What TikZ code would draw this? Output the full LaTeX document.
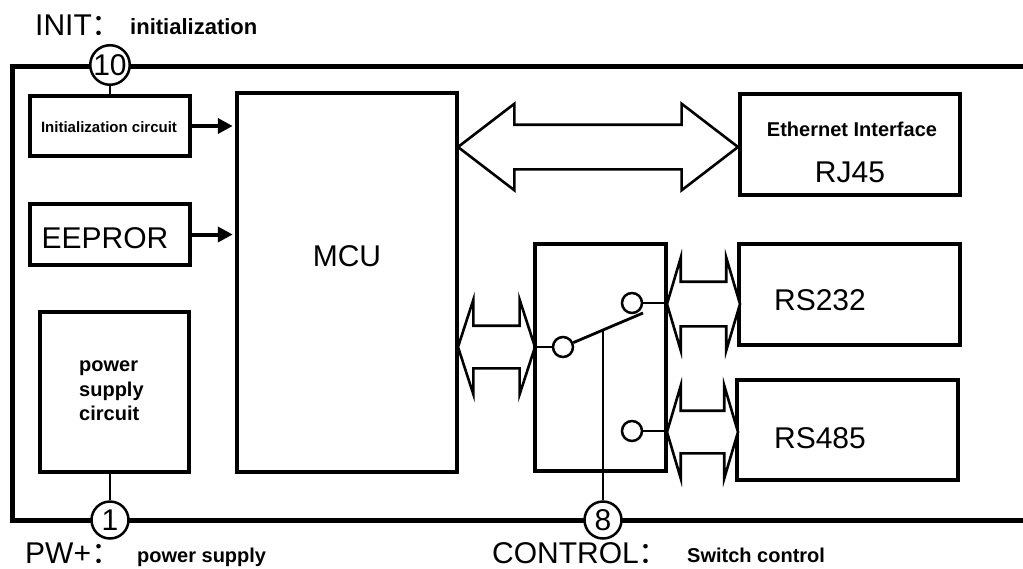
\documentclass[tikz,border=0pt]{standalone}
\usepackage{fontspec}
\setmainfont{Liberation Sans}
\newfontfamily\cjk{Noto Sans CJK SC}
\usetikzlibrary{arrows.meta,shapes.arrows,calc}
\tikzset{>={Triangle[length=15pt,width=15pt]},box/.style={draw,line width=4.5pt,inner sep=0pt},frame/.style={line width=5pt},arr/.style={->,line width=4pt,shorten >=2pt},wire/.style={line width=2.8pt},link/.style={double arrow,draw,line width=2.6pt,fill=white,inner xsep=0pt},pin/.style={circle,draw,line width=2.5pt,fill=white,inner sep=0pt,minimum size=37pt,font=\fontsize{30}{30}\selectfont},contact/.style={circle,draw,line width=2.5pt,fill=white,inner sep=0pt,minimum size=20pt},big/.style={font=\fontsize{30}{36}\selectfont,inner sep=0pt},bold/.style={font=\bfseries\fontsize{20}{24.5}\selectfont,inner sep=0pt}}

\begin{document}
\begin{tikzpicture}[x=1pt,y=-1pt]
\useasboundingbox (0,0) rectangle (1023,568);
\draw[frame] (1023,66) -- (12,66) -- (12,520) -- (1023,520);
% blocks
\node[box,minimum width=160pt,minimum height=60pt] (init) at (110,126) {};
\node[box,minimum width=160pt,minimum height=61pt] (eep) at (110,234.5) {};
\node[box,minimum width=149pt,minimum height=160pt] (pwr) at (114.5,392) {};
\node[box,minimum width=220pt,minimum height=379pt] (mcu) at (347,282.5) {};
\node[box,minimum width=220pt,minimum height=101pt] (eth) at (850,144.5) {};
\node[box,minimum width=131pt,minimum height=227pt] (sw) at (600.5,357.5) {};
\node[box,minimum width=221pt,minimum height=101pt] (rsa) at (849.5,294.5) {};
\node[box,minimum width=221pt,minimum height=100pt] (rsb) at (847.5,430) {};
\node[font=\bfseries\fontsize{15}{18}\selectfont,inner sep=0pt,anchor=base] (initt) at (109,132) {Initialization circuit};
\node[big,anchor=base] (eept) at (105,248) {EEPROR};
\node[bold,align=left,anchor=north west] (pwrt) at (79,361) {power\\supply\\circuit};
\node[big,anchor=base] (mcut) at (347,266) {MCU};
\node[bold,anchor=base] (etht) at (852,136) {Ethernet Interface};
\node[big,anchor=base] (rjt) at (850,182) {RJ45};
\node[big,anchor=base] (rsat) at (820,310) {RS232};
\node[big,anchor=base] (rsbt) at (820,448) {RS485};
% arrows
\draw[arr] (init.east) -- (mcu.west |- init.east);
\draw[arr] (eep.east) -- (mcu.west |- eep.east);
\node[link,minimum height=280pt,inner ysep=21pt,double arrow head extend=21pt,double arrow tip angle=75] (leth) at (598,147) {};
\node[link,minimum height=77pt,inner ysep=20pt,double arrow head extend=26pt,double arrow tip angle=144] (lsw) at (496.5,347) {};
\node[link,minimum height=73pt,inner ysep=21pt,double arrow head extend=24pt,double arrow tip angle=147] (lrsa) at (703.5,304) {};
\node[link,minimum height=71pt,inner ysep=20pt,double arrow head extend=25pt,double arrow tip angle=147] (lrsb) at (702.5,432) {};
% switch
\node[contact] (c1) at (563,347) {};
\node[contact] (c2) at (632,303) {};
\node[contact] (c3) at (632,431) {};
\coordinate (lever) at (643,313);
\coordinate (mid) at ($(c1)!.5!(lever)$);
\draw[wire] (sw.west |- c1) -- (c1);
\draw[wire] (c2) -- (sw.east |- c2);
\draw[wire] (c3) -- (sw.east |- c3);
\draw[wire] (c1) -- (lever);
% pins
\node[pin] (p10) at (110,65) {10};
\node[pin] (p1) at (110,520) {1};
\node[pin] (p8) at (603,520) {8};
\draw[wire] (p10) -- (init.north);
\draw[wire] (p1) -- (p1 |- pwr.south);
\draw[wire] (p8) -- (p8 |- mid);
\node[big,anchor=base west] (initl) at (35,35) {INIT{\cjk ：}};
\node[bold,font=\bfseries\fontsize{22}{26}\selectfont,anchor=base west] (initd) at (130,34) {initialization};
\node[big,anchor=base west] (pwl) at (25,563) {PW+{\cjk ：}};
\node[bold,anchor=base west] (pwd) at (137,562) {power supply};
\node[big,anchor=base west] (ctl) at (492,563) {CONTROL{\cjk ：}};
\node[bold,anchor=base west] (ctd) at (687,562) {Switch control};
\end{tikzpicture}
\end{document}
